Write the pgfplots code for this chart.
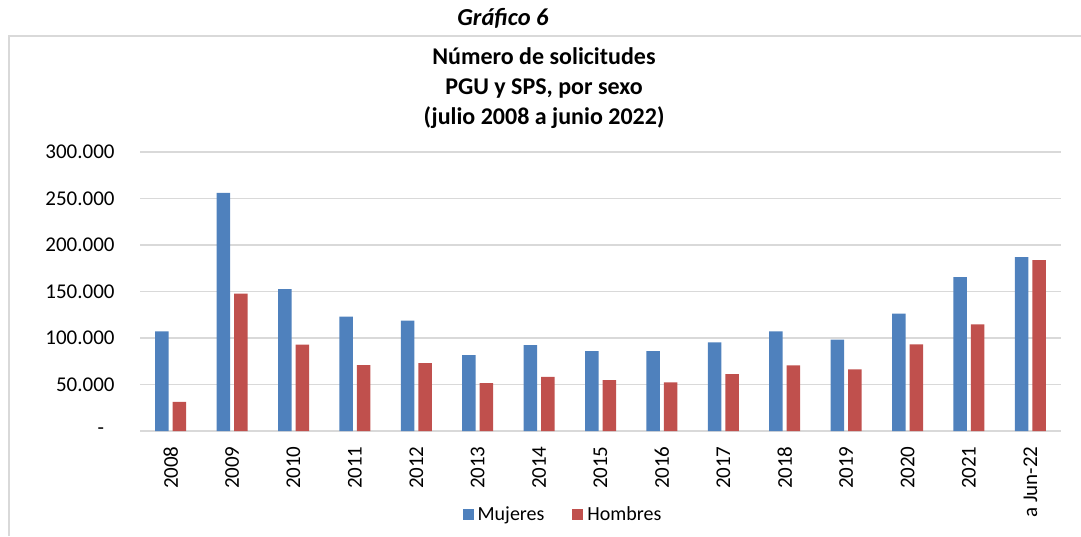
\documentclass[border=0pt]{standalone}
\usepackage{fontspec}
\setmainfont{Carlito}
\usepackage{pgfplots}
\usepackage{pgfplotstable}
\pgfplotsset{compat=1.18}
\definecolor{muj}{HTML}{4F81BD}
\definecolor{hom}{HTML}{C0504D}
\definecolor{grd}{HTML}{D9D9D9}

% solicitudes por año (julio 2008 a junio 2022)
\pgfplotstableread{
x  muj     hom
0  107200  31300
1  256100  147800
2  152500  92800
3  123000  70900
4  118700  73000
5  81700   51400
6  92400   58300
7  86000   54700
8  86000   52200
9  95300   61200
10 107200  70500
11 98200   66200
12 126300  93200
13 165500  114700
14 187000  183800
}\datos

\begin{document}
\begin{tikzpicture}
\useasboundingbox (0,0) rectangle (540.5pt,268pt);
\draw[grd, line width=1pt] (4.5pt,0) -- (4.5pt,250pt) -- (540.5pt,250pt);
\node[font=\fontsize{12.2}{14}\selectfont\bfseries\itshape] at (251.5pt,259pt) {Gráfico 6};
\node[font=\fontsize{12}{15}\selectfont\bfseries, align=center] at (272pt,224pt)
  {Número de solicitudes\\PGU y SPS, por sexo\\(julio 2008 a junio 2022)};
\begin{axis}[
  at={(70pt,52.5pt)}, anchor=south west,
  scale only axis, width=460.5pt, height=139.5pt,
  ymin=0, ymax=300000, xmin=-0.5, xmax=14.5,
  ytick={0,50000,...,300000},
  yticklabels={-\hphantom{0},50.000,100.000,150.000,200.000,250.000,300.000},
  xtick={0,...,14},
  xticklabels={2008,2009,2010,2011,2012,2013,2014,2015,2016,2017,2018,2019,2020,2021,a Jun-22},
  ymajorgrids, grid style={grd, line width=0.75pt},
  axis line style={draw=none},
  major tick length=0pt,
  scaled y ticks=false,
  yticklabel style={font=\fontsize{10.5}{12}\selectfont, anchor=east, inner sep=0pt, xshift=-12.5pt},
  xticklabel style={font=\fontsize{10.5}{12}\selectfont, yshift=-7.5pt, rotate=90, anchor=east, inner sep=0pt},
  legend style={at={(0.4604,-0.301)}, anchor=center, draw=none, fill=none,
    font=\fontsize{10}{12}\selectfont, legend columns=2,
    /tikz/every even column/.append style={column sep=12pt}},
  legend image code/.code={\fill[#1] (0pt,-2.75pt) rectangle (5.5pt,2.75pt);},
]
\addplot[ybar, bar width=6.75pt, bar shift=-4.375pt, fill=muj, draw=none] table[x=x, y=muj] {\datos};
\addplot[ybar, bar width=6.75pt, bar shift=4.375pt, fill=hom, draw=none] table[x=x, y=hom] {\datos};
\legend{Mujeres, Hombres}
\end{axis}
\end{tikzpicture}
\end{document}
